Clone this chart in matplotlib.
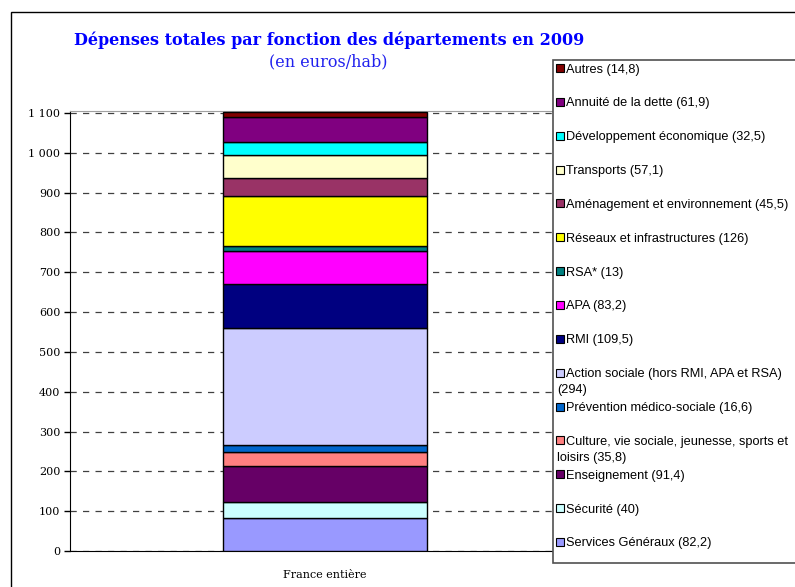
import matplotlib
matplotlib.use('Agg')
import matplotlib.pyplot as plt
from matplotlib.patches import Rectangle
from matplotlib.ticker import FuncFormatter, FixedLocator

# ---------------- data ----------------
bar_label = 'France entière'
categories = ['Services Généraux', 'Sécurité', 'Enseignement',
              'Culture, vie sociale, jeunesse, sports et\nloisirs',
              'Prévention médico-sociale',
              'Action sociale (hors RMI, APA et RSA)\n',
              'RMI', 'APA', 'RSA*', 'Réseaux et infrastructures',
              'Aménagement et environnement', 'Transports',
              'Développement économique', 'Annuité de la dette', 'Autres']
values = [82.2, 40, 91.4, 35.8, 16.6, 294, 109.5, 83.2, 13, 126,
          45.5, 57.1, 32.5, 61.9, 14.8]
value_labels = ['82,2', '40', '91,4', '35,8', '16,6', '294', '109,5', '83,2',
                '13', '126', '45,5', '57,1', '32,5', '61,9', '14,8']
colors = ['#9999FF', '#CCFFFF', '#660066', '#FF8080', '#0066CC', '#CCCCFF',
          '#000080', '#FF00FF', '#008080', '#FFFF00', '#993366', '#FFFFCC',
          '#00FFFF', '#800080', '#800000']
yticks = [0, 100, 200, 300, 400, 500, 600, 700, 800, 900, 1000, 1100]
title = 'Dépenses totales par fonction des départements en 2009'
subtitle = '(en euros/hab)'

# ---------------- figure ----------------
W, H = 795, 587
fig = plt.figure(figsize=(W / 100, H / 100), dpi=100)
fig.patch.set_facecolor('white')


def fx(px):
    return px / W


def fy(py):
    return 1 - py / H


ax = fig.add_axes([fx(70), fy(551), fx(580) - fx(70), fy(111) - fy(551)])

bottom = 0
for v, c in zip(values, colors):
    ax.bar(0, v, bottom=bottom, width=0.4, color=c, edgecolor='black',
           linewidth=1.0, zorder=3)
    bottom += v

ax.set_xlim(-0.5, 0.5)
ax.set_ylim(0, 1105)
ax.yaxis.set_major_locator(FixedLocator(yticks))
ax.yaxis.set_major_formatter(FuncFormatter(lambda v, _: f"{int(v):,}".replace(',', ' ')))
ax.set_xticks([0])
ax.set_xticklabels([bar_label], fontfamily='DejaVu Serif', fontsize=8)
ax.tick_params(axis='x', length=0, pad=14)
ax.tick_params(axis='y', length=4, width=1, color='black', labelsize=8, pad=3)
for lab in ax.get_yticklabels():
    lab.set_fontfamily('DejaVu Serif')

ax.yaxis.grid(True, linestyle=(0, (5, 5)), color='#404040', linewidth=0.9, zorder=0)
ax.set_axisbelow(True)
ax.spines['left'].set_color('black')
ax.spines['bottom'].set_color('black')
ax.spines['top'].set_color('#A0A0A0')
ax.spines['right'].set_color('#A0A0A0')

# titles
fig.text(fx(329), fy(40), title, ha='center', va='center', fontsize=11.5,
         fontweight='bold', fontfamily='DejaVu Serif', color='#0000FF')
fig.text(fx(328), fy(62), subtitle, ha='center', va='center', fontsize=11.5,
         fontfamily='DejaVu Serif', color='#2222EE')

# outer border (left and top visible)
fig.add_artist(Rectangle((fx(11), -0.1), 1.2, fy(12) + 0.1, transform=fig.transFigure,
                         fill=False, edgecolor='black', linewidth=1.0, zorder=1))

# legend box
fig.add_artist(Rectangle((fx(553), fy(563)), 0.5, fy(60) - fy(563),
                         transform=fig.transFigure, facecolor='white',
                         edgecolor='#505050', linewidth=1.2, zorder=2))

legend_items = list(zip(categories, value_labels, colors))[::-1]
y0, step = 68, 33.85
for i, (cat, vl, c) in enumerate(legend_items):
    yc = y0 + i * step
    if cat.endswith('\n'):
        label = f"{cat}({vl})"
    else:
        label = f"{cat} ({vl})"
    fig.add_artist(Rectangle((fx(556), fy(yc + 4)), fx(8), fy(yc - 4) - fy(yc + 4),
                             transform=fig.transFigure, facecolor=c,
                             edgecolor='black', linewidth=0.8, zorder=3))
    for j, line in enumerate(label.split('\n')):
        fig.text(fx(566 if j == 0 else 557), fy(yc + 4.5 + 16 * j), line,
                 ha='left', va='baseline', fontsize=9.2,
                 fontfamily='Liberation Sans', color='black', zorder=4)

fig.savefig('out.png', dpi=100)
